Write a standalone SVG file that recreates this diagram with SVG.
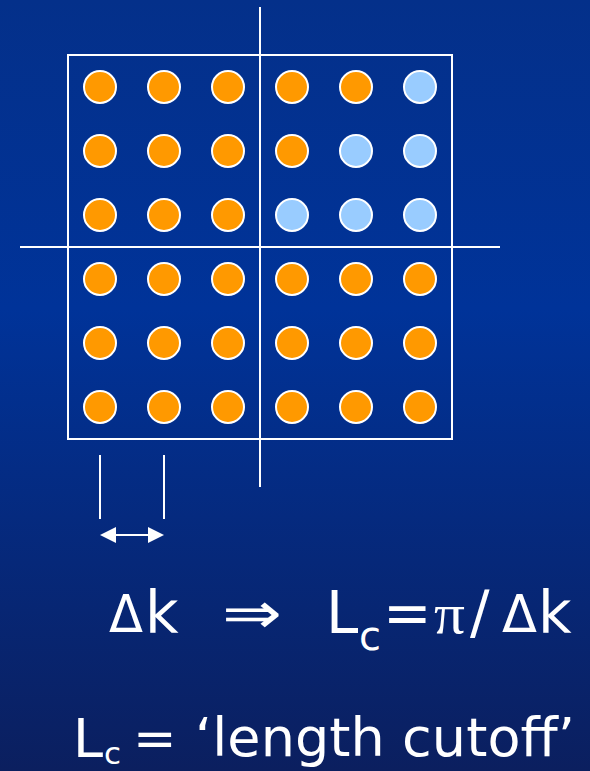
<svg xmlns="http://www.w3.org/2000/svg" width="590" height="771" viewBox="0 0 590 771">
<defs>
<linearGradient id="bg" x1="0" y1="0" x2="0" y2="1">
<stop offset="0" stop-color="#04308a"/>
<stop offset="0.4" stop-color="#003399"/>
<stop offset="1" stop-color="#0b1f5f"/>
</linearGradient>
<style>
.ln{stroke:#fff;stroke-width:2;fill:none}
.o{fill:#ff9900;stroke:#fff;stroke-width:2}
.b{fill:#99ccff;stroke:#fff;stroke-width:2}
.t{fill:#fff;font-family:"DejaVu Sans","Liberation Sans",sans-serif}
.s{fill:#fff;font-family:"Liberation Serif","DejaVu Serif",serif}
</style>
</defs>
<rect width="590" height="771" fill="url(#bg)"/>
<g id="connectors">
<rect class="ln" x="68" y="55" width="384" height="384"/>
<line class="ln" x1="260" y1="7" x2="260" y2="487"/>
<line class="ln" x1="20" y1="247" x2="500" y2="247"/>
<line class="ln" x1="100" y1="455" x2="100" y2="519"/>
<line class="ln" x1="164" y1="455" x2="164" y2="519"/>
<line class="ln" x1="112" y1="535" x2="152" y2="535"/>
<polygon fill="#fff" points="100,535 116,527 116,543"/>
<polygon fill="#fff" points="164,535 148,527 148,543"/>
</g>
<g id="dots">
<circle class="o" cx="100" cy="87" r="16"/><circle class="o" cx="164" cy="87" r="16"/><circle class="o" cx="228" cy="87" r="16"/><circle class="o" cx="292" cy="87" r="16"/><circle class="o" cx="356" cy="87" r="16"/><circle class="b" cx="420" cy="87" r="16"/>
<circle class="o" cx="100" cy="151" r="16"/><circle class="o" cx="164" cy="151" r="16"/><circle class="o" cx="228" cy="151" r="16"/><circle class="o" cx="292" cy="151" r="16"/><circle class="b" cx="356" cy="151" r="16"/><circle class="b" cx="420" cy="151" r="16"/>
<circle class="o" cx="100" cy="215" r="16"/><circle class="o" cx="164" cy="215" r="16"/><circle class="o" cx="228" cy="215" r="16"/><circle class="b" cx="292" cy="215" r="16"/><circle class="b" cx="356" cy="215" r="16"/><circle class="b" cx="420" cy="215" r="16"/>
<circle class="o" cx="100" cy="279" r="16"/><circle class="o" cx="164" cy="279" r="16"/><circle class="o" cx="228" cy="279" r="16"/><circle class="o" cx="292" cy="279" r="16"/><circle class="o" cx="356" cy="279" r="16"/><circle class="o" cx="420" cy="279" r="16"/>
<circle class="o" cx="100" cy="343" r="16"/><circle class="o" cx="164" cy="343" r="16"/><circle class="o" cx="228" cy="343" r="16"/><circle class="o" cx="292" cy="343" r="16"/><circle class="o" cx="356" cy="343" r="16"/><circle class="o" cx="420" cy="343" r="16"/>
<circle class="o" cx="100" cy="407" r="16"/><circle class="o" cx="164" cy="407" r="16"/><circle class="o" cx="228" cy="407" r="16"/><circle class="o" cx="292" cy="407" r="16"/><circle class="o" cx="356" cy="407" r="16"/><circle class="o" cx="420" cy="407" r="16"/>
</g>
<g id="formula">
<text class="t" x="109" y="632" font-size="52" textLength="34" lengthAdjust="spacingAndGlyphs">Δ</text>
<text class="t" x="145" y="633" font-size="58">k</text>
<text class="t" x="222" y="633" font-size="58" textLength="60" lengthAdjust="spacingAndGlyphs">⇒</text>
<text class="t" y="633" font-size="58"><tspan x="326">L</tspan><tspan x="359" y="650" font-size="40">c</tspan><tspan x="383" y="633">=</tspan></text>
<text class="s" x="434" y="633" font-size="56" textLength="31" lengthAdjust="spacingAndGlyphs">π</text>
<text class="t" x="470" y="633" font-size="58">/</text>
<text class="t" x="502" y="632" font-size="52" textLength="35" lengthAdjust="spacingAndGlyphs">Δ</text>
<text class="t" x="538" y="633" font-size="58">k</text>
</g>
<g id="definition">
<text class="t" y="757" font-size="54"><tspan x="73">L</tspan><tspan x="104" y="764" font-size="31">c</tspan></text>
<text class="t" x="133" y="756" font-size="52">=</text>
<text class="t" x="195" y="756" font-size="54" textLength="380">‘length cutoff’</text>
</g>
</svg>
